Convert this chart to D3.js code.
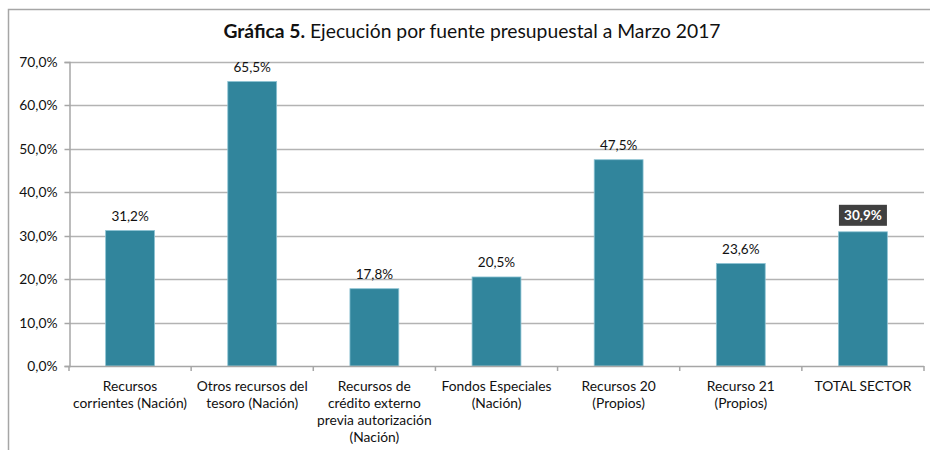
<!DOCTYPE html>
<html>
<head>
<meta charset="utf-8">
<script src="https://cdn.jsdelivr.net/npm/d3@7"></script>
<style>
  body { margin: 0; background: #fff; }
  svg text { font-family: "Lato", "Liberation Sans", sans-serif; fill: #111; }
</style>
</head>
<body>
<div id="chart"></div>
<script>
// data
var categories = [
    ["Recursos", "corrientes (Nación)"],
    ["Otros recursos del", "tesoro (Nación)"],
    ["Recursos de", "crédito externo", "previa autorización", "(Nación)"],
    ["Fondos Especiales", "(Nación)"],
    ["Recursos 20", "(Propios)"],
    ["Recurso 21", "(Propios)"],
    ["TOTAL SECTOR"]
];
var values = [31.2, 65.5, 17.8, 20.5, 47.5, 23.6, 30.9];
var yTicks = [0, 10, 20, 30, 40, 50, 60, 70];
var highlight = 6; // total bar has a boxed label

var width = 930, height = 450;
var margin = {top: 62, left: 69, right: 6, bottom: 84};

var svg = d3.select("#chart").append("svg")
    .attr("width", width)
    .attr("height", height);

// outer frame, cut off at the right and bottom like the picture
svg.append("rect")
    .attr("x", 8.5).attr("y", 9.5)
    .attr("width", 960).attr("height", 480)
    .style("fill", "none")
    .style("stroke", "#a6a6a6")
    .style("stroke-width", 1.5);

var title = svg.append("text")
    .attr("x", 472).attr("y", 38)
    .attr("text-anchor", "middle")
    .style("font-size", "19.3px");
title.append("tspan").style("font-weight", "bold").text("Gráfica 5.");
title.append("tspan").text(" Ejecución por fuente presupuestal a Marzo 2017");

var x = d3.scaleBand()
    .domain(d3.range(categories.length))
    .range([margin.left, width - margin.right])
    .paddingInner(0.6)
    .paddingOuter(0.3);

var y = d3.scaleLinear()
    .domain([0, 70])
    .range([height - margin.bottom, margin.top]);

var fmt = function(d) { return d3.format(".1f")(d).replace(".", ",") + "%"; };

// gridlines
svg.append("g")
    .selectAll("line")
    .data(yTicks.slice(1))
    .enter().append("line")
    .attr("x1", margin.left).attr("x2", width - margin.right)
    .attr("y1", function(d) { return Math.round(y(d)) + 0.5; })
    .attr("y2", function(d) { return Math.round(y(d)) + 0.5; })
    .style("stroke", "#b3b3b3")
    .style("stroke-width", 1.5);

// y axis
var yAxis = svg.append("g")
    .attr("transform", "translate(" + (margin.left + 0.5) + ",0)")
    .call(d3.axisLeft(y).tickValues(yTicks).tickSize(5).tickPadding(7).tickFormat(fmt));
yAxis.select(".domain").style("stroke", "#a6a6a6").style("stroke-width", 1.5);
yAxis.selectAll(".tick line").style("stroke", "#a6a6a6").style("stroke-width", 1.5);
yAxis.selectAll(".tick text").style("font-size", "13.8px").style("fill", "#111");
yAxis.selectAll(".tick").attr("transform", function(d) {
    return "translate(0," + (Math.round(y(d)) + 0.5) + ")";
});

// bars
svg.append("g")
    .selectAll("rect")
    .data(values)
    .enter().append("rect")
    .attr("x", function(d, i) { return x(i); })
    .attr("y", function(d) { return y(d); })
    .attr("width", x.bandwidth())
    .attr("height", function(d) { return y(0) - y(d); })
    .style("fill", "#31859c")
    .style("stroke", "#8cc3d3")
    .style("stroke-width", 0.8);

// x axis, ticks between categories
var step = x.step();
var xAxis = svg.append("g");
xAxis.append("line")
    .attr("x1", margin.left).attr("x2", width - margin.right)
    .attr("y1", Math.round(y(0)) + 0.5).attr("y2", Math.round(y(0)) + 0.5)
    .style("stroke", "#a6a6a6").style("stroke-width", 1.5);
xAxis.selectAll(".tk")
    .data(d3.range(categories.length + 1))
    .enter().append("line")
    .attr("x1", function(i) { return margin.left + i * step; })
    .attr("x2", function(i) { return margin.left + i * step; })
    .attr("y1", Math.round(y(0))).attr("y2", Math.round(y(0)) + 5)
    .style("stroke", "#a6a6a6").style("stroke-width", 1.5);

// category labels
svg.append("g")
    .selectAll("text")
    .data(categories)
    .enter().append("text")
    .attr("text-anchor", "middle")
    .attr("y", 391)
    .style("font-size", "13.8px")
    .each(function(lines, i) {
        var t = d3.select(this);
        lines.forEach(function(l, j) {
            t.append("tspan")
                .attr("x", x(i) + x.bandwidth() / 2)
                .attr("dy", j === 0 ? 0 : 17)
                .text(l);
        });
    });

// value labels
var labels = svg.append("g");
values.forEach(function(d, i) {
    var cx = x(i) + x.bandwidth() / 2;
    if (i === highlight) {
        labels.append("rect")
            .attr("x", cx - 24).attr("y", y(d) - 27)
            .attr("width", 48).attr("height", 21)
            .style("fill", "#404040");
        labels.append("text")
            .attr("x", cx).attr("y", y(d) - 11.5)
            .attr("text-anchor", "middle")
            .style("font-size", "13.5px")
            .style("font-weight", "bold")
            .style("fill", "#fff")
            .text(fmt(d));
    } else {
        labels.append("text")
            .attr("x", cx).attr("y", y(d) - 10)
            .attr("text-anchor", "middle")
            .style("font-size", "13.5px")
            .text(fmt(d));
    }
});
</script>
</body>
</html>
